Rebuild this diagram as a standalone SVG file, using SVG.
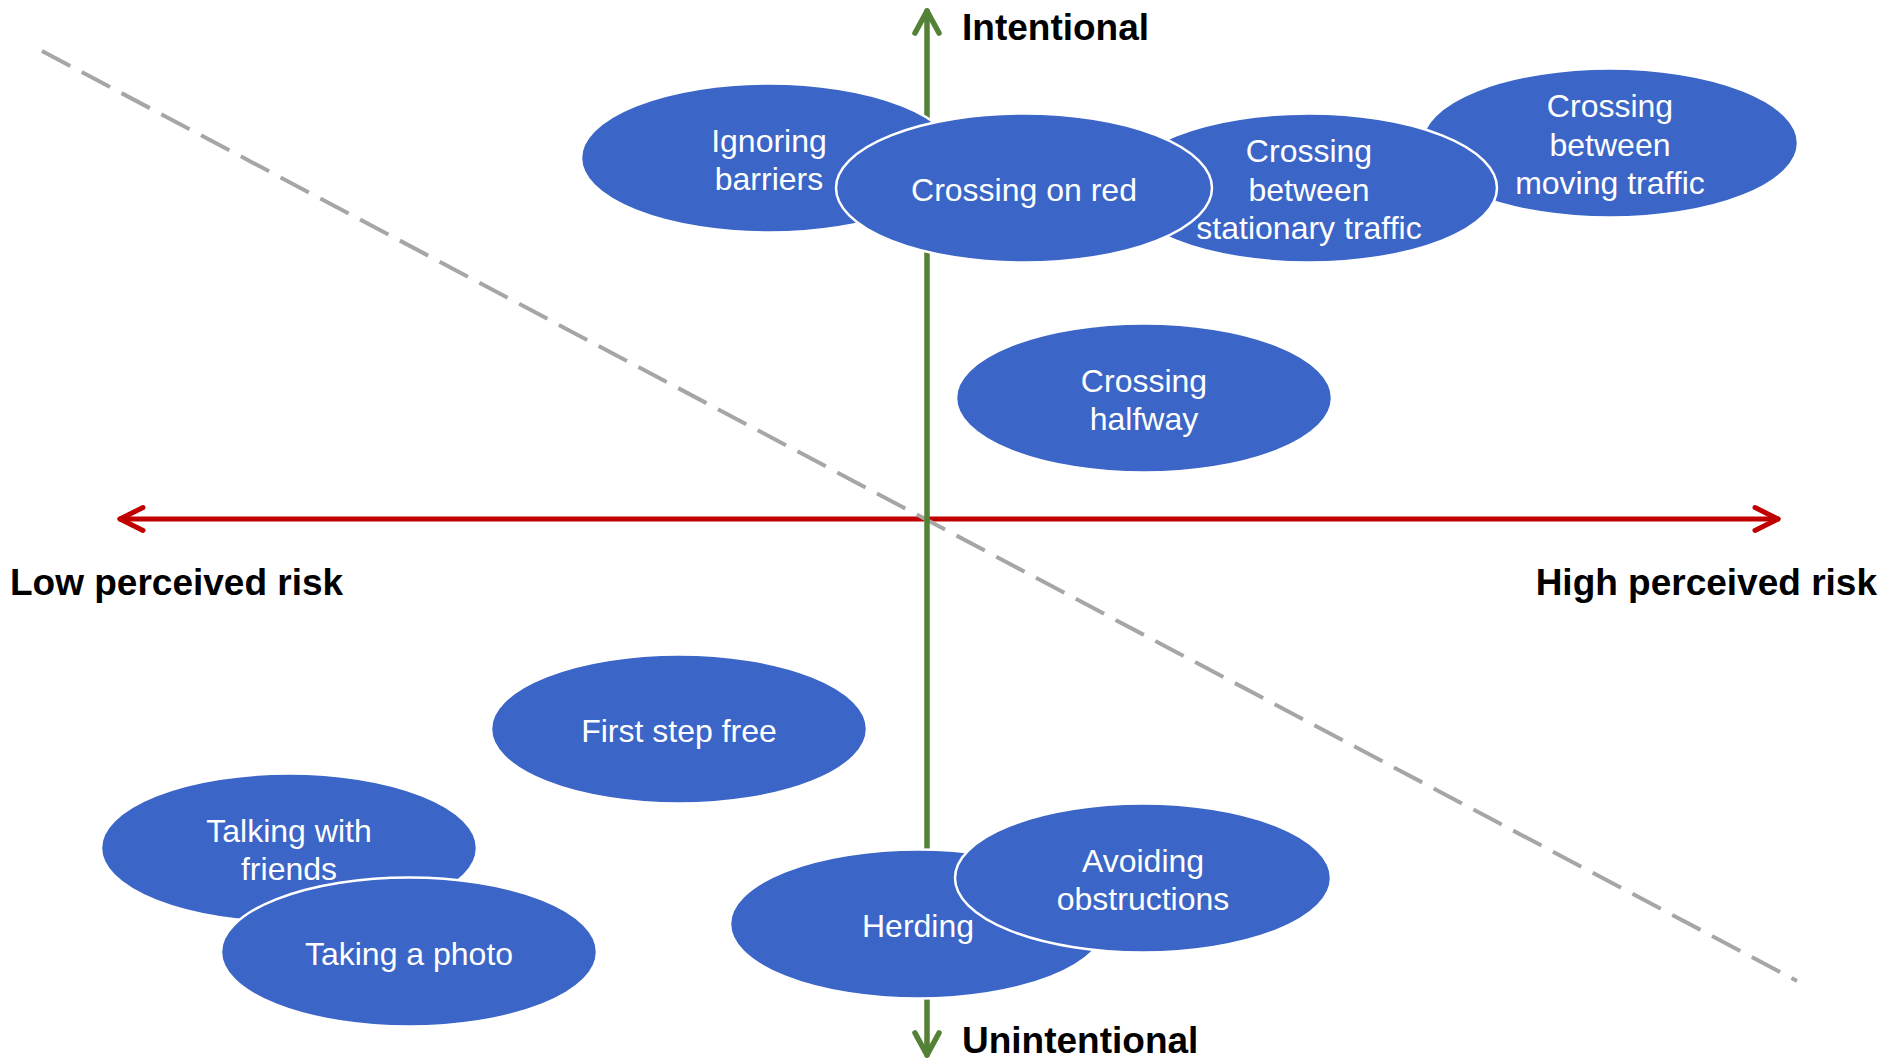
<svg xmlns="http://www.w3.org/2000/svg" width="1887" height="1059" viewBox="0 0 1887 1059">
<style>
.node ellipse{fill:#3B65C6;stroke:#FFFFFF;stroke-width:2.5}
.node text{font-family:"Liberation Sans",Arial,sans-serif;font-size:32px;fill:#FFFFFF;text-anchor:middle}
.axis-label{font-family:"Liberation Sans",Arial,sans-serif;font-size:37px;font-weight:bold;fill:#000000}
.red{stroke:#C00000;stroke-width:5;fill:none;stroke-linecap:round;stroke-linejoin:round}
.green{stroke:#538135;stroke-width:5.5;fill:none;stroke-linecap:round;stroke-linejoin:round}
.dash{stroke:#A6A6A6;stroke-width:4;fill:none;stroke-dasharray:32 13}
</style>
<rect width="1887" height="1059" fill="#FFFFFF"/>
<g id="connectors">
<line class="red" x1="120" y1="519" x2="1778" y2="519"/>
<polyline class="red" points="143,507.5 120,519 143,530.5"/>
<polyline class="red" points="1755,507.5 1778,519 1755,530.5"/>
<line class="dash" x1="42" y1="51" x2="1797" y2="981"/>
<line class="green" x1="927" y1="11" x2="927" y2="1055"/>
<polyline class="green" points="915,33 927,11 939,33"/>
<polyline class="green" points="915,1033 927,1055 939,1033"/>
</g>
<g id="labels">
<text class="axis-label" x="962" y="40">Intentional</text>
<text class="axis-label" x="962" y="1053">Unintentional</text>
<text class="axis-label" x="10" y="595">Low perceived risk</text>
<text class="axis-label" x="1877" y="595" text-anchor="end">High perceived risk</text>
</g>
<g id="ignoring-barriers" class="node">
<ellipse cx="769" cy="158" rx="188" ry="74.5"/>
<text x="769" y="151.5">Ignoring</text>
<text x="769" y="190">barriers</text>
</g>
<g id="crossing-moving-traffic" class="node">
<ellipse cx="1610" cy="143" rx="188" ry="74.5"/>
<text x="1610" y="117">Crossing</text>
<text x="1610" y="155.5">between</text>
<text x="1610" y="194">moving traffic</text>
</g>
<g id="crossing-stationary-traffic" class="node">
<ellipse cx="1309" cy="188" rx="188" ry="74.5"/>
<text x="1309" y="162">Crossing</text>
<text x="1309" y="200.5">between</text>
<text x="1309" y="239">stationary traffic</text>
</g>
<g id="crossing-on-red" class="node">
<ellipse cx="1024" cy="188" rx="188" ry="74.5"/>
<text x="1024" y="200.5">Crossing on red</text>
</g>
<g id="crossing-halfway" class="node">
<ellipse cx="1144" cy="398" rx="188" ry="74.5"/>
<text x="1144" y="391.5">Crossing</text>
<text x="1144" y="430">halfway</text>
</g>
<g id="first-step-free" class="node">
<ellipse cx="679" cy="729" rx="188" ry="74.5"/>
<text x="679" y="741.5">First step free</text>
</g>
<g id="talking-with-friends" class="node">
<ellipse cx="289" cy="848" rx="188" ry="74.5"/>
<text x="289" y="841.5">Talking with</text>
<text x="289" y="880">friends</text>
</g>
<g id="taking-a-photo" class="node">
<ellipse cx="409" cy="952" rx="188" ry="74.5"/>
<text x="409" y="964.5">Taking a photo</text>
</g>
<g id="herding" class="node">
<ellipse cx="918" cy="924" rx="188" ry="74.5"/>
<text x="918" y="936.5">Herding</text>
</g>
<g id="avoiding-obstructions" class="node">
<ellipse cx="1143" cy="878" rx="188" ry="74.5"/>
<text x="1143" y="871.5">Avoiding</text>
<text x="1143" y="910">obstructions</text>
</g>
</svg>
